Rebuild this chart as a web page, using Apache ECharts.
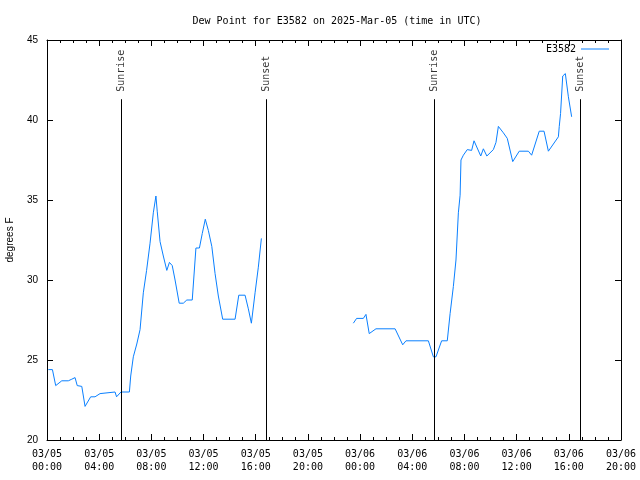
<!DOCTYPE html>
<html>
<head>
<meta charset="utf-8">
<script src="https://cdn.jsdelivr.net/npm/echarts@6/dist/echarts.min.js"></script>
<style>html,body{margin:0;padding:0;background:#fff;}#c{width:640px;height:480px;}</style>
</head>
<body>
<div id="c"></div>
<script>
// Observation times (MM-DD HH:MM, UTC) and dew point values (deg F); null marks the data gap
const times = [
 '03-05 00:06','03-05 00:25','03-05 00:40','03-05 01:08','03-05 01:38','03-05 01:54','03-05 02:09','03-05 02:19',
 '03-05 02:40','03-05 02:55','03-05 03:21','03-05 03:41','03-05 04:04','03-05 04:12','03-05 05:13','03-05 05:20',
 '03-05 05:40','03-05 06:19','03-05 06:25','03-05 06:37','03-05 06:53','03-05 07:08','03-05 07:23','03-05 07:38',
 '03-05 07:54','03-05 08:09','03-05 08:21','03-05 08:27','03-05 08:40','03-05 08:55','03-05 09:11','03-05 09:23',
 '03-05 09:36','03-05 09:49','03-05 10:08','03-05 10:27','03-05 10:43','03-05 11:08','03-05 11:25','03-05 11:41',
 '03-05 11:54','03-05 12:08','03-05 12:22','03-05 12:38','03-05 12:53','03-05 13:08','03-05 13:28','03-05 14:25',
 '03-05 14:42','03-05 15:11','03-05 15:26','03-05 15:40','03-05 15:57','03-05 16:12','03-05 16:26',
 '03-05 20:00',
 '03-05 23:29','03-05 23:44','03-06 00:15','03-06 00:27','03-06 00:42','03-06 01:13','03-06 02:41','03-06 03:16',
 '03-06 03:31','03-06 05:14','03-06 05:37','03-06 05:49','03-06 06:15','03-06 06:41','03-06 06:54','03-06 07:09',
 '03-06 07:21','03-06 07:32','03-06 07:40','03-06 07:44','03-06 07:55','03-06 08:13','03-06 08:33','03-06 08:44',
 '03-06 09:15','03-06 09:27','03-06 09:43','03-06 10:13','03-06 10:25','03-06 10:36','03-06 10:59','03-06 11:17',
 '03-06 11:42','03-06 12:12','03-06 12:54','03-06 13:09','03-06 13:44','03-06 14:06','03-06 14:26','03-06 15:12',
 '03-06 15:16','03-06 15:22','03-06 15:32','03-06 15:44','03-06 15:58','03-06 16:13'
];
const dewpoint = [
 24.4,24.4,23.4,23.7,23.7,23.8,23.9,23.4,
 23.35,22.1,22.7,22.7,22.9,23.0,23.0,22.7,
 23.0,23.0,24.0,25.2,26.0,26.9,29.2,30.6,
 32.3,34.2,35.25,34.3,32.4,31.5,30.6,31.1,
 30.9,30.0,28.55,28.55,28.75,28.75,32.0,32.0,
 32.9,33.8,33.1,32.1,30.4,29.0,27.55,27.55,
 29.05,29.05,28.2,27.3,29.2,30.8,32.6,
 null,
 27.3,27.6,27.6,27.85,26.65,26.95,26.95,25.95,
 26.2,26.2,25.2,25.2,26.2,26.2,27.9,29.6,
 31.25,34.2,35.3,37.5,37.8,38.15,38.1,38.7,
 37.75,38.2,37.75,38.15,38.6,39.6,39.2,38.85,
 37.4,38.05,38.05,37.8,39.3,39.3,38.05,38.95,
 39.6,40.4,42.75,42.9,41.45,40.2
];
const sunEventTimes = ['03-05 05:41','03-05 16:48','03-06 05:41','03-06 16:52'];
const sunEventNames = ['Sunrise','Sunset','Sunrise','Sunset'];
const xStart = '03-05 00:00', xEnd = '03-06 20:00';
const yTicks = [20,25,30,35,40,45];

function toMs(s){
  const [md, hm] = s.split(' ');
  const [mo, d] = md.split('-').map(Number);
  const [h, m] = hm.split(':').map(Number);
  return Date.UTC(2025, mo-1, d, h, m);
}
const p2 = n => (n<10?'0':'')+n;
const fmt = v => { const d = new Date(v); return p2(d.getUTCMonth()+1)+'/'+p2(d.getUTCDate())+'\n'+p2(d.getUTCHours())+':'+p2(d.getUTCMinutes()); };

const HOUR = 3600000;
const mono = 'DejaVu Sans Mono';
const xMin = toMs(xStart), xMax = toMs(xEnd);
const lineTop = 41.3, labelBase = 41.7;

const xCommon = {
  type:'value', min:xMin, max:xMax, interval:4*HOUR,
  axisLine:{show:true, lineStyle:{color:'#000', width:1}},
  axisTick:{show:true, inside:true, length:6, lineStyle:{color:'#000'}},
  minorTick:{show:true, splitNumber:4, length:3, lineStyle:{color:'#000'}},
  splitLine:{show:false}, minorSplitLine:{show:false}
};
const yCommon = {
  type:'value', min:yTicks[0], max:yTicks[yTicks.length-1], interval:yTicks[1]-yTicks[0],
  axisLine:{show:true, lineStyle:{color:'#000', width:1}},
  axisTick:{show:true, inside:true, length:6, lineStyle:{color:'#000'}},
  splitLine:{show:false}
};

const chart = echarts.init(document.getElementById('c'), null, {renderer:'canvas'});
chart.setOption({
  animation:false,
  backgroundColor:'#fff',
  title:{text:'Dew Point for E3582 on 2025-Mar-05 (time in UTC)', left:332, textAlign:'center', top:11,
    textStyle:{fontFamily:mono, fontSize:10, fontWeight:'normal', color:'#000'}},
  legend:{right:31, top:44, padding:0, align:'right', itemWidth:28, itemHeight:1, itemGap:5,
    textStyle:{fontFamily:mono, fontSize:10, color:'#000'},
    data:[{name:'E3582', icon:'rect'}]},
  grid:{left:47, right:19, top:40, bottom:40, containLabel:false, outerBoundsMode:'none'},
  xAxis:[
    Object.assign({}, xCommon, {position:'bottom',
      axisLabel:{show:true, formatter:fmt, fontFamily:mono, fontSize:10, color:'#000', margin:8, lineHeight:13}}),
    Object.assign({}, xCommon, {position:'top', axisLabel:{show:false}})
  ],
  yAxis:[
    Object.assign({}, yCommon, {position:'left', name:'degrees F', nameLocation:'middle', nameGap:32,
      nameTextStyle:{fontFamily:'Liberation Sans', fontSize:10, color:'#000'},
      axisLabel:{fontFamily:'Liberation Sans', fontSize:10, color:'#000', margin:9}}),
    Object.assign({}, yCommon, {position:'right', axisLabel:{show:false}})
  ],
  series:[
    {name:'E3582', type:'line', symbol:'none', connectNulls:false,
     lineStyle:{color:'#0a80ff', width:1}, itemStyle:{color:'#0a80ff'},
     data: times.map((t,i)=>[toMs(t), dewpoint[i]])},
    {name:'sun', type:'scatter', symbolSize:0, silent:true,
     data: sunEventTimes.map((t,i)=>({value:[toMs(t), labelBase], name:sunEventNames[i]})),
     label:{show:true, formatter:p=>p.name, rotate:90, position:'inside', align:'left', verticalAlign:'middle',
       offset:[1,0], fontFamily:mono, fontSize:10, color:'#000'},
     markLine:{silent:true, symbol:'none', label:{show:false},
       lineStyle:{color:'#000', width:1, type:'solid'},
       data: sunEventTimes.map(t=>[{coord:[toMs(t), yTicks[0]]},{coord:[toMs(t), lineTop]}])}
    }
  ]
});
</script>
</body>
</html>
